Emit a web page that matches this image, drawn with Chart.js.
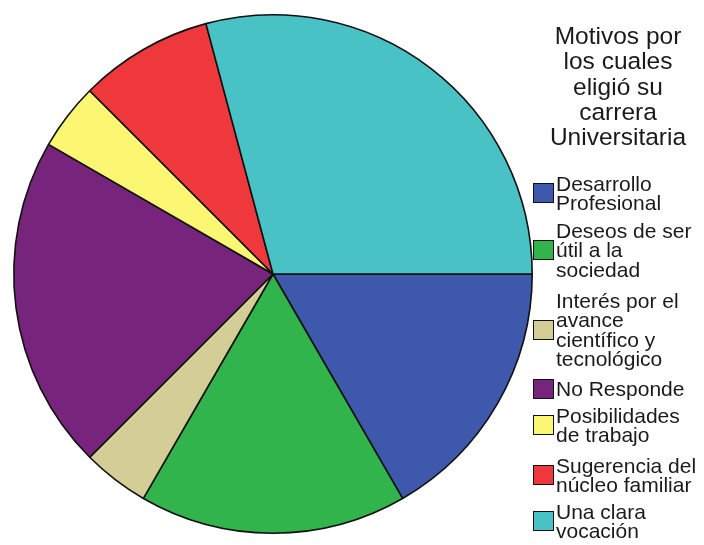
<!DOCTYPE html>
<html>
<head>
<meta charset="utf-8">
<script src="https://cdn.jsdelivr.net/npm/chart.js@4"></script>
<style>
  html, body { margin: 0; padding: 0; background: #fff; }
  #wrap { position: relative; width: 704px; height: 545px; overflow: hidden; }
  #pie { position: absolute; left: 0; top: 0; }
  #legend { position: absolute; left: 533px; top: 0; width: 171px; height: 545px; font-family: "Liberation Sans", Arial, sans-serif; color: #1a1a1a; }
  #legend .title { position: absolute; left: 10px; top: 23px; width: 150px; text-align: center; font-size: 24.5px; line-height: 25.3px; }
  #legend .item { position: absolute; left: 0; display: flex; align-items: center; }
  #legend .box { width: 19px; height: 18px; border: 1.5px solid #111; flex: none; }
  #legend .txt { width: 146px; margin-left: 2px; font-size: 21px; line-height: 19.3px; }
</style>
</head>
<body>
<div id="wrap">
  <canvas id="pie" width="704" height="545"></canvas>
  <div id="legend"></div>
</div>
<script>
const titleText = 'Motivos por los cuales eligió su carrera Universitaria';
const categories = [
  'Desarrollo Profesional',
  'Deseos de ser útil a la sociedad',
  'Interés por el avance científico y tecnológico',
  'No Responde',
  'Posibilidades de trabajo',
  'Sugerencia del núcleo familiar',
  'Una clara vocación'
];
const counts = [4, 4, 1, 5, 1, 2, 7];
const sliceColors = ['#3e58ac', '#31b44b', '#d3cd96', '#77247c', '#fbf772', '#ee383c', '#49c2c6'];

// legend drawn as html so the labels can wrap like the original
const legendTops = [174, 221, 291, 379, 406, 456, 502];
const legend = document.getElementById('legend');
const t = document.createElement('div');
t.className = 'title';
t.textContent = titleText;
legend.appendChild(t);
categories.forEach(function(name, i) {
  const item = document.createElement('div');
  item.className = 'item';
  item.style.top = legendTops[i] + 'px';
  const box = document.createElement('div');
  box.className = 'box';
  box.style.background = sliceColors[i];
  const txt = document.createElement('div');
  txt.className = 'txt';
  txt.textContent = name;
  item.appendChild(box);
  item.appendChild(txt);
  legend.appendChild(item);
});

const ctx = document.getElementById('pie');
const pieChart = new Chart(ctx, {
  type: 'pie',
  data: {
    labels: categories,
    datasets: [{
      data: counts,
      backgroundColor: sliceColors,
      borderColor: '#111',
      borderWidth: 1.6,
    }]
  },
  options: {
    responsive: false,
    animation: false,
    rotation: 90,
    layout: { padding: { left: 13, right: 171, top: 14, bottom: 11 } },
    plugins: {
      legend: { display: false },
      tooltip: { enabled: false }
    }
  }
});
</script>
</body>
</html>
